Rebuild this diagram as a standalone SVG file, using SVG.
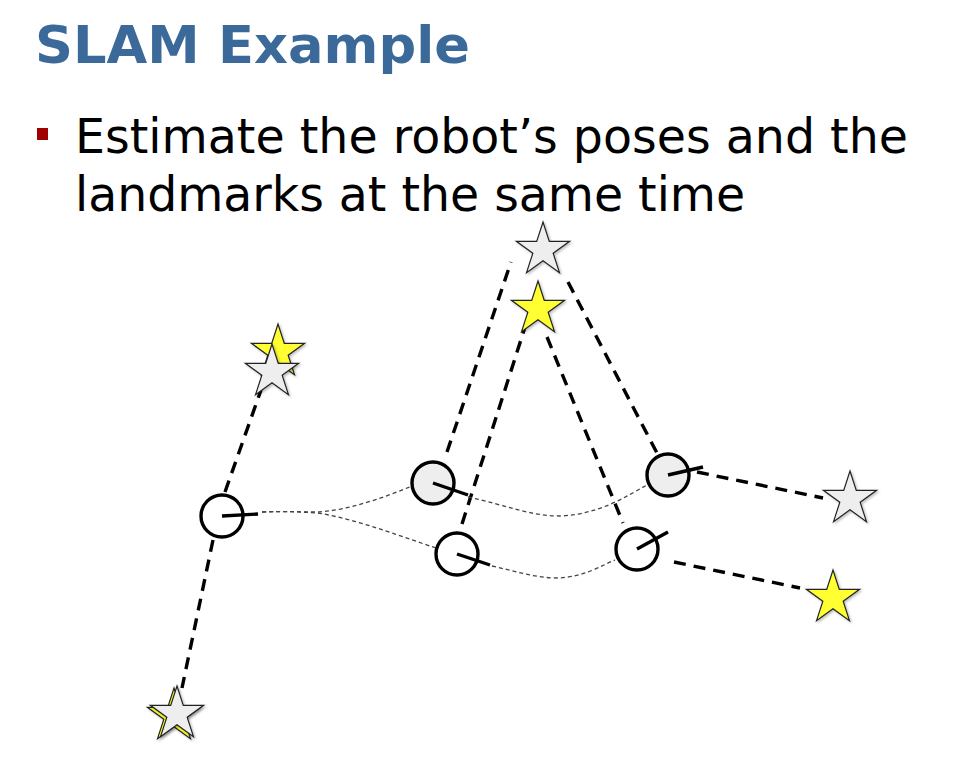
<svg xmlns="http://www.w3.org/2000/svg" xmlns:xlink="http://www.w3.org/1999/xlink" width="960" height="764" viewBox="0 0 960 764">
<defs>
<style>
.title{font-family:"DejaVu Sans",Verdana,sans-serif;font-weight:bold;font-size:52px;fill:#3B6A9A}
.body{font-family:"DejaVu Sans",Tahoma,sans-serif;font-size:48px;fill:#000}
.meas{fill:none;stroke:#000;stroke-width:3.4;stroke-dasharray:12 8}
.odo{fill:none;stroke:#444;stroke-width:1.3;stroke-dasharray:4 3}
.pose{stroke:#000;stroke-width:3.4}
.head{stroke:#000;stroke-width:3.4;fill:none}
.gs{fill:#EEEEEE;stroke:#222;stroke-width:1.2;filter:url(#sh)}
.ys{fill:#FFFF33;stroke:#222;stroke-width:1.2;filter:url(#sh)}
</style>
<filter id="sh" x="-30%" y="-30%" width="160%" height="160%">
<feDropShadow dx="1.5" dy="1.5" stdDeviation="1.2" flood-color="#000" flood-opacity="0.25"/>
</filter>
<path id="star" d="M0,-28 L6.28,-8.65 L26.63,-8.65 L10.17,3.3 L16.46,22.65 L0,10.7 L-16.46,22.65 L-10.17,3.3 L-26.63,-8.65 L-6.28,-8.65 Z"/>
</defs>
<rect width="960" height="764" fill="#fff"/>
<g id="title">
<text class="title" x="35" y="63" textLength="435" lengthAdjust="spacingAndGlyphs">SLAM Example</text>
</g>
<g id="bullet">
<rect x="37" y="128" width="11" height="12" fill="#A00000"/>
<text class="body" x="75" y="153" textLength="833" lengthAdjust="spacingAndGlyphs">Estimate the robot’s poses and the</text>
<text class="body" x="75" y="211" textLength="670" lengthAdjust="spacingAndGlyphs">landmarks at the same time</text>
</g>
<g id="connectors">
<line class="meas" x1="225" y1="492" x2="261" y2="390"/>
<line class="meas" x1="213" y1="540" x2="182" y2="688"/>
<line class="meas" x1="447" y1="452" x2="511" y2="262"/>
<line class="meas" x1="462" y1="524" x2="526" y2="324"/>
<line class="meas" x1="547" y1="337" x2="623" y2="523"/>
<line class="meas" x1="568" y1="282" x2="658" y2="455"/>
<line class="meas" x1="697" y1="472" x2="823" y2="498"/>
<line class="meas" x1="674" y1="562" x2="800" y2="588"/>
<path class="odo" d="M262,512 C285,511 300,512 318,512 C350,510 385,497 412,486"/>
<path class="odo" d="M262,512 C285,511 300,512 318,513 C360,520 405,538 436,548"/>
<path class="odo" d="M468,497 C505,505 530,516 560,516 C600,514 625,497 647,485"/>
<path class="odo" d="M492,566 C515,571 535,578 557,578 C585,577 600,566 615,560"/>
</g>
<g id="landmark-left-yellow"><use xlink:href="#star" class="ys" transform="translate(278,352)"/></g>
<g id="landmark-left-grey"><use xlink:href="#star" class="gs" transform="translate(272,372)"/></g>
<g id="landmark-top-grey"><use xlink:href="#star" class="gs" transform="translate(543,250)"/></g>
<g id="landmark-top-yellow"><use xlink:href="#star" class="ys" transform="translate(538,309)"/></g>
<g id="landmark-right-grey"><use xlink:href="#star" class="gs" transform="translate(850,499)"/></g>
<g id="landmark-right-yellow"><use xlink:href="#star" class="ys" transform="translate(833,598)"/></g>
<g id="landmark-bottom-yellow"><use xlink:href="#star" class="ys" transform="translate(174,716)"/></g>
<g id="landmark-bottom-grey"><use xlink:href="#star" class="gs" transform="translate(177,714)"/></g>
<g id="pose1">
<circle class="pose" cx="222" cy="516" r="21" fill="#fff"/>
<line class="head" x1="222" y1="516" x2="258" y2="514"/>
</g>
<g id="pose2">
<circle class="pose" cx="433" cy="483" r="21" fill="#EEEEEE"/>
<line class="head" x1="433" y1="483" x2="468" y2="495"/>
</g>
<g id="pose3">
<circle class="pose" cx="457" cy="554" r="21" fill="#fff"/>
<line class="head" x1="457" y1="554" x2="490" y2="565"/>
</g>
<g id="pose4">
<circle class="pose" cx="637" cy="549" r="21" fill="#fff"/>
<line class="head" x1="637" y1="549" x2="668" y2="532"/>
</g>
<g id="pose5">
<circle class="pose" cx="668" cy="475" r="21" fill="#EEEEEE"/>
<line class="head" x1="668" y1="475" x2="703" y2="467"/>
</g>
</svg>
